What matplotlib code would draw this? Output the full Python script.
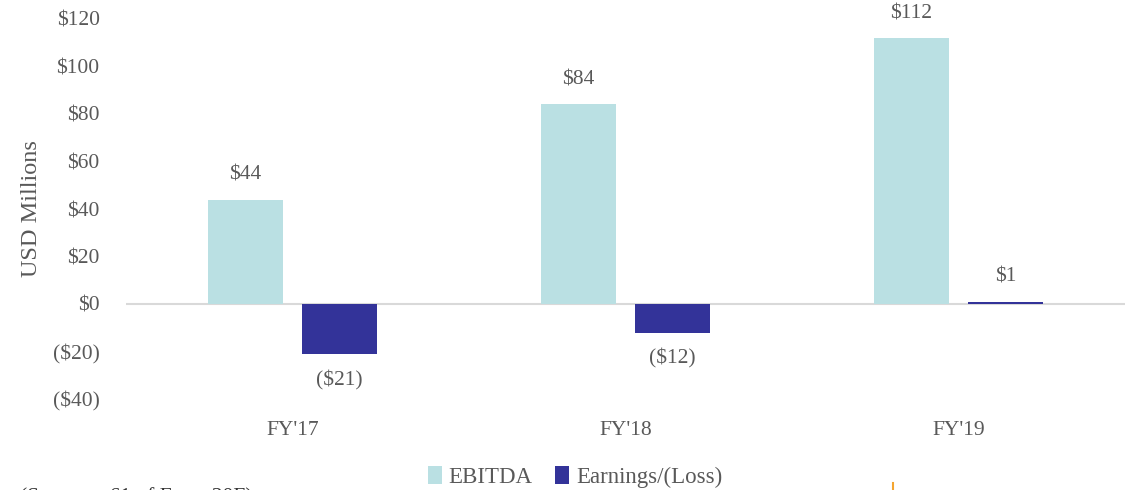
import matplotlib
matplotlib.use("Agg")
import matplotlib.pyplot as plt
import numpy as np
from matplotlib.lines import Line2D

categories = ["FY'17", "FY'18", "FY'19"]
ebitda = [44, 84, 112]
earnings = [-21, -12, 1]
series_names = ["EBITDA", "Earnings/(Loss)"]
yticks = [-40, -20, 0, 20, 40, 60, 80, 100, 120]

C_EBITDA = "#BAE0E3"
C_EARN = "#333399"
TXT = "#595959"

plt.rcParams['font.family'] = ['Liberation Serif', 'DejaVu Serif']

fig = plt.figure(figsize=(11.38, 4.90), dpi=100)
ax = fig.add_axes([126/1138, 1-399/490, 999/1138, 380/490])

x = np.arange(len(categories))
w = 0.225
off = 0.141
b1 = ax.bar(x - off, ebitda, width=w, color=C_EBITDA, label=series_names[0], zorder=2)
b2 = ax.bar(x + off, earnings, width=w, color=C_EARN, label=series_names[1], zorder=2)

def fmt(v):
    return f"(${abs(v):.0f})" if v < 0 else f"${v:.0f}"

for bars, vals in ((b1, ebitda), (b2, earnings)):
    for r, v in zip(bars, vals):
        cx = r.get_x() + r.get_width()/2
        dy = 17.5 if v >= 0 else -19
        ax.annotate(fmt(v), (cx, v), xytext=(0, dy), textcoords='offset points',
                    ha='center', va='center', fontsize=15.5, color=TXT, clip_on=False)

ax.axhline(0, color="#D9D9D9", lw=1.5, zorder=1)
ax.set_xlim(-0.5, 2.5)
ax.set_ylim(-40, 120)
ax.set_yticks(yticks)
ax.set_yticklabels([fmt(t) for t in yticks])
ax.set_xticks(x)
ax.set_xticklabels(categories)
for s in ax.spines.values():
    s.set_visible(False)
ax.tick_params(axis='y', length=0, pad=19, labelsize=15.5, labelcolor=TXT)
ax.tick_params(axis='x', length=0, pad=16, labelsize=15.5, labelcolor=TXT)
ax.set_ylabel("USD Millions", fontsize=17.5, color=TXT, labelpad=8)
ax.yaxis.set_label_coords(-84/999, 0.5)

fig.legend(handles=[b1, b2], loc='center', bbox_to_anchor=(575/1138, 1-477/490),
           ncol=2, frameon=False, fontsize=16.5, labelcolor=TXT,
           handlelength=0.6, handleheight=0.85, handletextpad=0.3, columnspacing=1.0)

fig.text(20/1138, -7/490, "(See page 61 of Form 20F)", fontsize=15.5, color="#333333",
         ha='left', va='center')
fig.add_artist(Line2D([893/1138, 893/1138], [0, 7/490], color="#F4A530", lw=1.5,
                      transform=fig.transFigure))

fig.savefig("out.png", dpi=100)
